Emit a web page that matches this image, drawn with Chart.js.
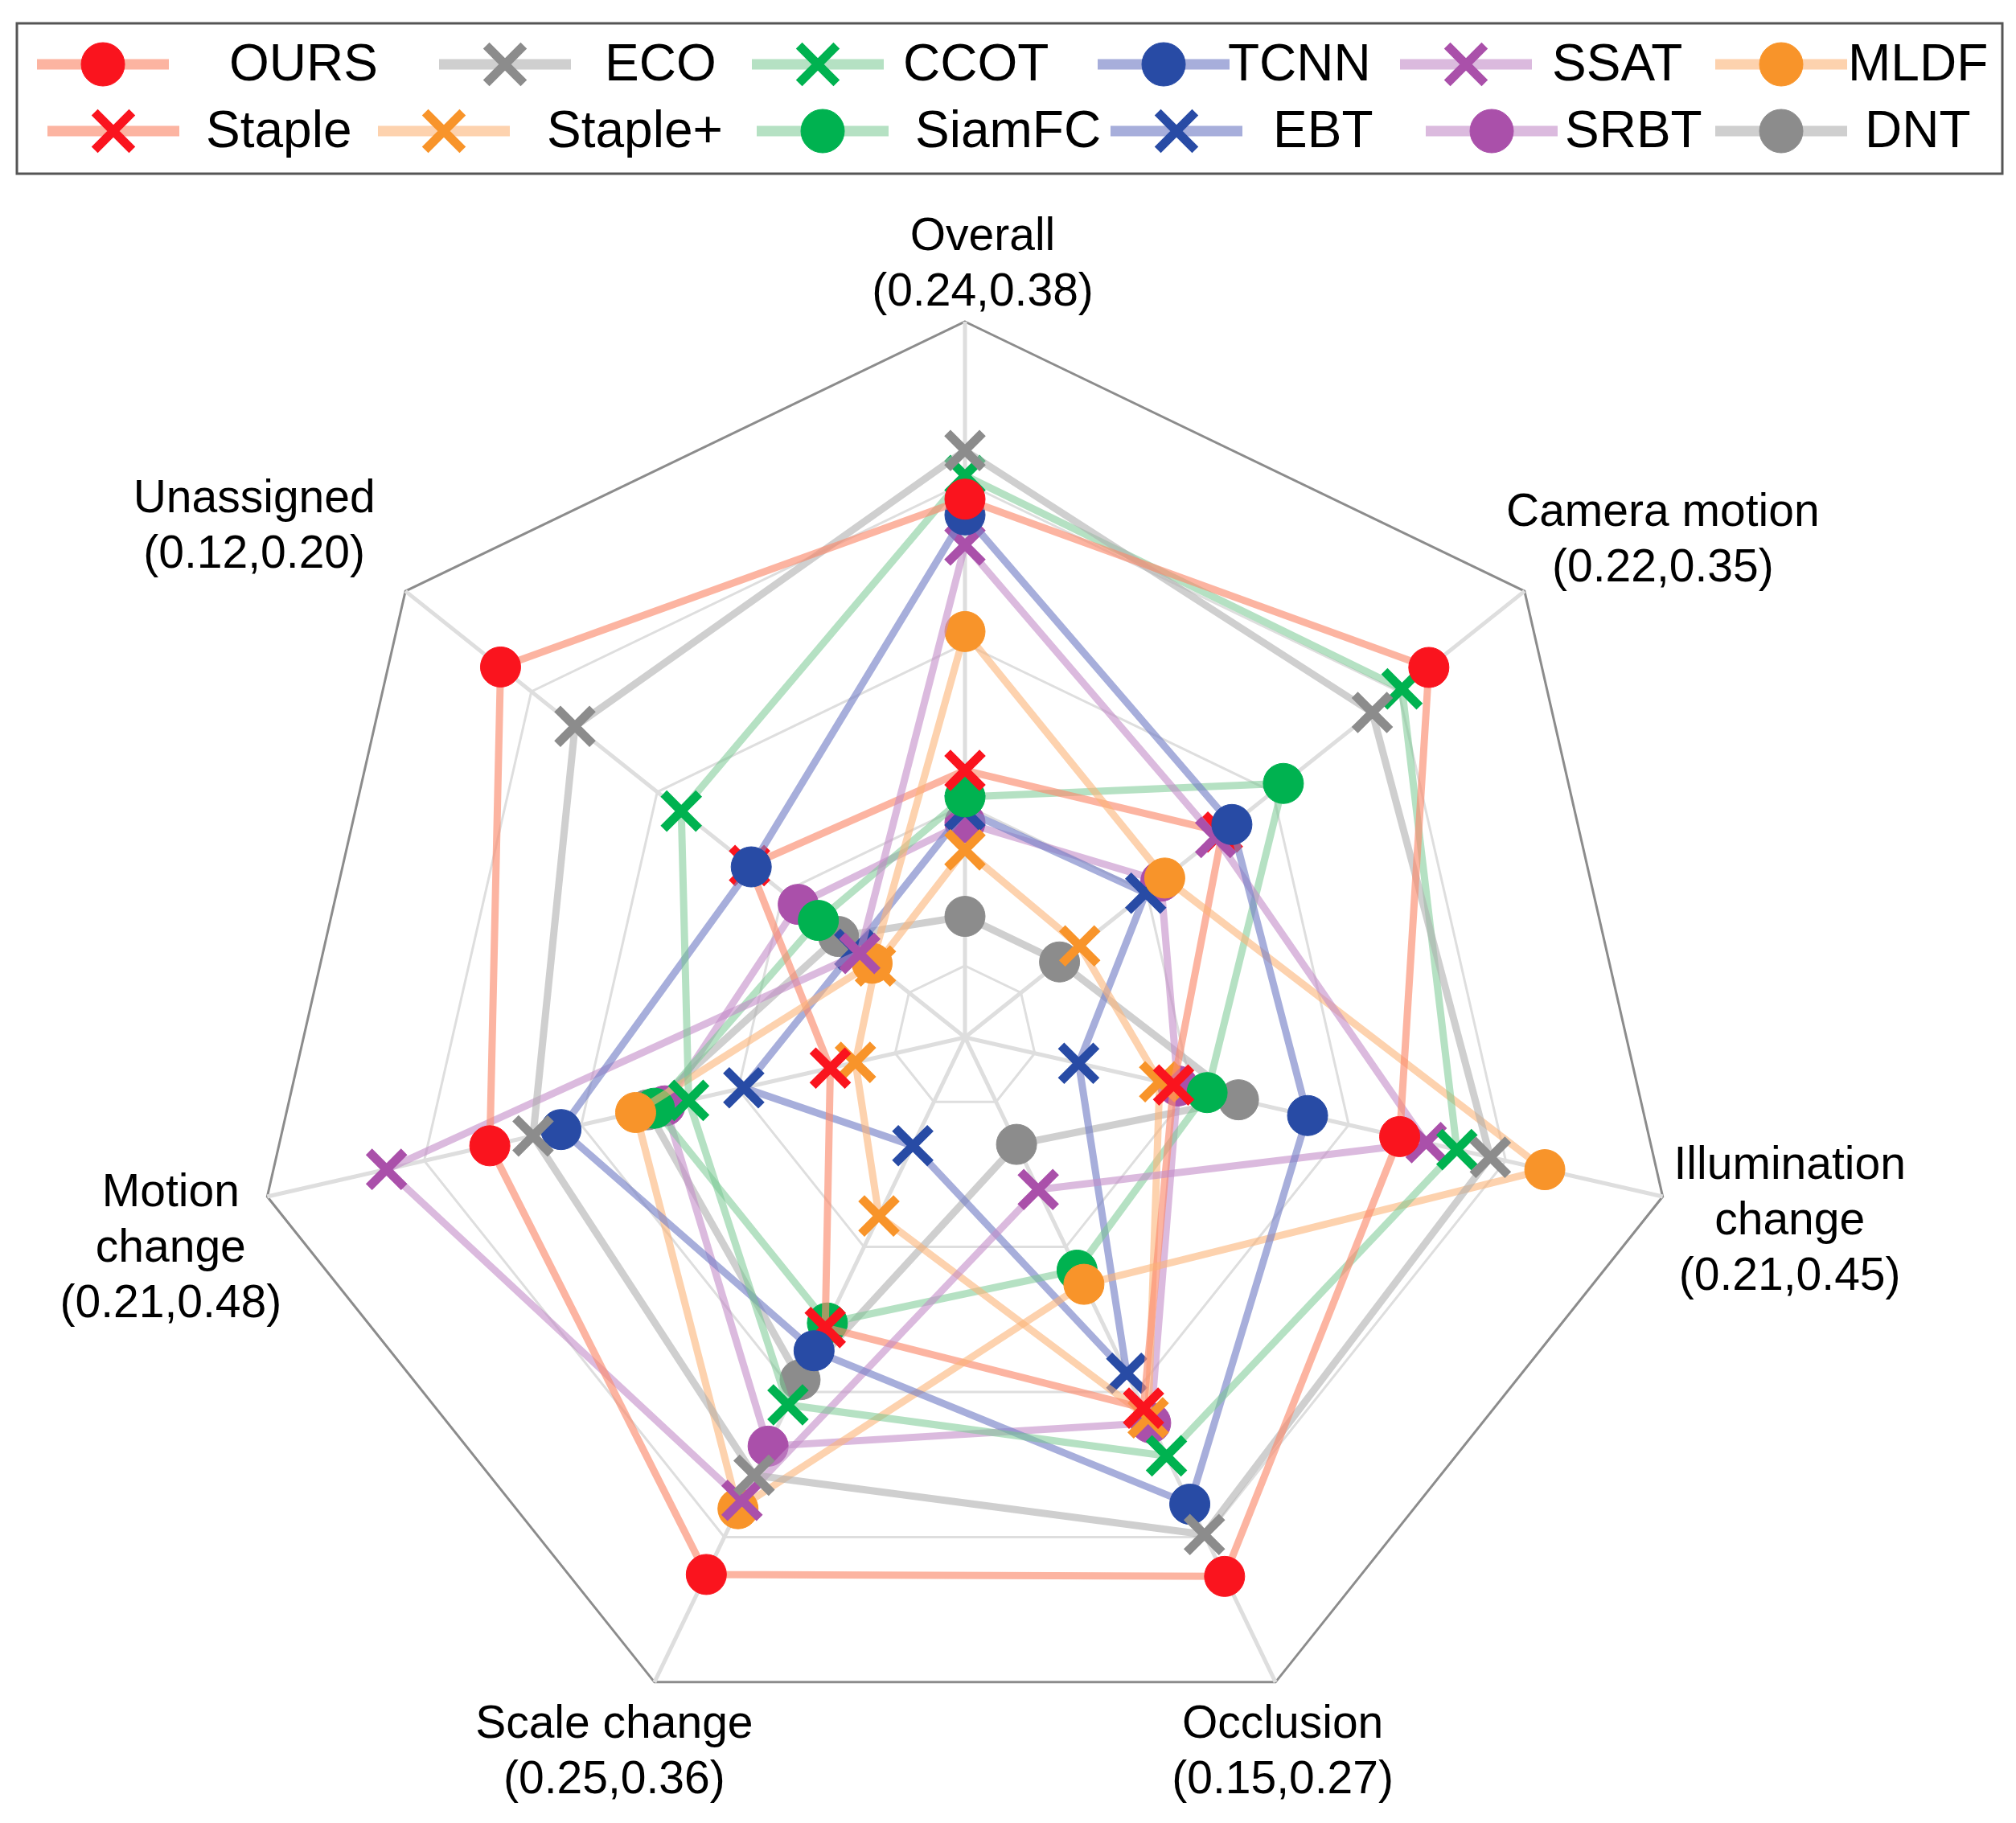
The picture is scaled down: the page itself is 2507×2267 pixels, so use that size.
<!DOCTYPE html>
<html>
<head>
<meta charset="utf-8">
<title>Tracker attribute radar</title>
<script src="https://cdn.jsdelivr.net/npm/chart.js@4.4.1/dist/chart.umd.min.js"></script>
<style>
  html, body { margin: 0; padding: 0; background: #fff; }
  #wrap { width: 2507px; height: 2267px; position: relative; }
</style>
</head>
<body>
<div id="wrap"><canvas id="radar"></canvas></div>
<script>
// axis names with their (min,max) ranges, clockwise from the top
const attributes = [
    ['Overall', '(0.24,0.38)'],
    ['Camera motion', '(0.22,0.35)'],
    ['Illumination', 'change', '(0.21,0.45)'],
    ['Occlusion', '(0.15,0.27)'],
    ['Scale change', '(0.25,0.36)'],
    ['Motion', 'change', '(0.21,0.48)'],
    ['Unassigned', '(0.12,0.20)']
];

const trackers = ['OURS', 'ECO', 'CCOT', 'TCNN', 'SSAT', 'MLDF',
                  'Staple', 'Staple+', 'SiamFC', 'EBT', 'SRBT', 'DNT'];

// position of each tracker inside the axis range (0 = centre, 1 = outer ring)
const ours    = [0.752, 0.829, 0.623, 0.836, 0.833, 0.681, 0.830];
const eco     = [0.820, 0.728, 0.753, 0.771, 0.679, 0.619, 0.697];
const ccot    = [0.785, 0.781, 0.705, 0.649, 0.570, 0.396, 0.507];
const tcnn    = [0.730, 0.477, 0.491, 0.724, 0.486, 0.579, 0.382];
const ssat    = [0.688, 0.448, 0.661, 0.236, 0.718, 0.829, 0.188];
const mldf    = [0.567, 0.357, 0.831, 0.383, 0.731, 0.472, 0.166];
const staple  = [0.373, 0.460, 0.299, 0.575, 0.450, 0.193, 0.385];
const stapleP = [0.262, 0.205, 0.279, 0.590, 0.277, 0.157, 0.160];
const siamfc  = [0.336, 0.569, 0.347, 0.361, 0.443, 0.445, 0.262];
const ebt     = [0.317, 0.323, 0.163, 0.521, 0.168, 0.317, 0.197];
const srbt    = [0.300, 0.350, 0.305, 0.598, 0.634, 0.430, 0.298];
const dnt     = [0.169, 0.169, 0.392, 0.166, 0.531, 0.455, 0.226];

const seriesValues = [ours, eco, ccot, tcnn, ssat, mldf, staple, stapleP, siamfc, ebt, srbt, dnt];
const markers = ['circle', 'crossRot', 'crossRot', 'circle', 'crossRot', 'circle',
                 'crossRot', 'crossRot', 'circle', 'crossRot', 'circle', 'circle'];
const hues = ['red', 'gray', 'green', 'blue', 'purple', 'orange',
              'red', 'orange', 'green', 'blue', 'purple', 'gray'];

// ring positions of the grid
const gridTicks = [0, 0.1, 0.325, 0.55, 0.775, 1];

const markColor = {
    red: 'rgb(250,20,30)', gray: 'rgb(140,140,140)', green: 'rgb(0,178,80)',
    blue: 'rgb(40,75,165)', purple: 'rgb(170,80,170)', orange: 'rgb(248,148,42)'
};
const lineColor = {
    red: 'rgba(250,140,110,0.65)', gray: 'rgba(175,175,175,0.6)', green: 'rgba(120,200,145,0.55)',
    blue: 'rgba(120,130,200,0.65)', purple: 'rgba(195,140,200,0.6)', orange: 'rgba(252,180,120,0.6)'
};

const FONT = '"Liberation Sans", Arial, sans-serif';
// label block centre relative to the axis end point
const labelOffsets = [[22, -70], [172, -62], [158, 31], [9, 88], [-50, 88], [-120, 65], [-188, -79]];
// legend layout: handle centre and text start, per row
const legendHandleX = [[128, 628, 1017, 1447, 1823, 2215], [141, 552, 1023, 1463, 1855, 2215]];
const legendTextX = [[285, 752, 1123, 1527, 1930, 2298], [256, 680, 1138, 1583, 1946, 2319]];
const legendRowY = [80, 163];

function drawMarker(ctx, style, x, y, hue) {
    ctx.fillStyle = markColor[hue];
    ctx.strokeStyle = markColor[hue];
    const opts = style === 'circle'
        ? {pointStyle: 'circle', radius: 27, borderWidth: 1, rotation: 0}
        : {pointStyle: 'crossRot', radius: 33, borderWidth: 11, rotation: 0};
    ctx.lineWidth = opts.borderWidth;
    Chart.helpers.drawPoint(ctx, opts, x, y);
}

const overlay = {
    id: 'overlay',
    afterDraw(chart) {
        const ctx = chart.ctx;
        const r = chart.scales.r;
        ctx.save();

        // axis labels
        ctx.fillStyle = '#000';
        ctx.font = '57px ' + FONT;
        ctx.textAlign = 'center';
        ctx.textBaseline = 'middle';
        attributes.forEach((lines, i) => {
            const p = r.getPointPosition(i, r.drawingArea);
            const top = p.y + labelOffsets[i][1] - (lines.length - 1) * 69 / 2;
            lines.forEach((t, k) => ctx.fillText(t, p.x + labelOffsets[i][0], top + k * 69));
        });

        // legend
        ctx.strokeStyle = '#555';
        ctx.lineWidth = 3;
        ctx.strokeRect(21, 29, 2469, 187);
        ctx.font = '64px ' + FONT;
        ctx.textAlign = 'left';
        trackers.forEach((name, i) => {
            const row = i < 6 ? 0 : 1;
            const col = i % 6;
            const cx = legendHandleX[row][col];
            const y = legendRowY[row];
            ctx.strokeStyle = lineColor[hues[i]];
            ctx.lineWidth = 13;
            ctx.beginPath();
            ctx.moveTo(cx - 82, y);
            ctx.lineTo(cx + 82, y);
            ctx.stroke();
            drawMarker(ctx, markers[i], cx, y, hues[i]);
            ctx.fillStyle = '#000';
            ctx.fillText(name, legendTextX[row][col], y + 2);
        });
        ctx.restore();
    }
};

const datasets = trackers.map((name, i) => ({
    label: name,
    data: seriesValues[i],
    borderColor: lineColor[hues[i]],
    borderWidth: 9,
    fill: false,
    tension: 0,
    pointStyle: markers[i],
    pointRadius: markers[i] === 'circle' ? 25 : 31,
    pointHoverRadius: markers[i] === 'circle' ? 25 : 31,
    pointBorderWidth: markers[i] === 'circle' ? 1 : 11,
    pointBackgroundColor: markColor[hues[i]],
    pointBorderColor: markColor[hues[i]]
}));

new Chart(document.getElementById('radar'), {
    type: 'radar',
    data: {
        labels: attributes.map(a => a.join(' ')),
        datasets: datasets
    },
    options: {
        responsive: true,
        maintainAspectRatio: false,
        animation: false,
        layout: {padding: {top: 400, bottom: 87, left: 310, right: 417}},
        plugins: {
            legend: {display: false},
            tooltip: {enabled: false}
        },
        scales: {
            r: {
                min: 0,
                max: 1,
                ticks: {display: false},
                afterBuildTicks: scale => {
                    scale.ticks = gridTicks.map(v => ({value: v}));
                },
                grid: {
                    color: c => (c.tick && c.tick.value === 1) ? '#8c8c8c' : '#dedede',
                    lineWidth: 3
                },
                angleLines: {color: '#dedede', lineWidth: 5},
                pointLabels: {display: false}
            }
        }
    },
    plugins: [overlay]
});
</script>
</body>
</html>
